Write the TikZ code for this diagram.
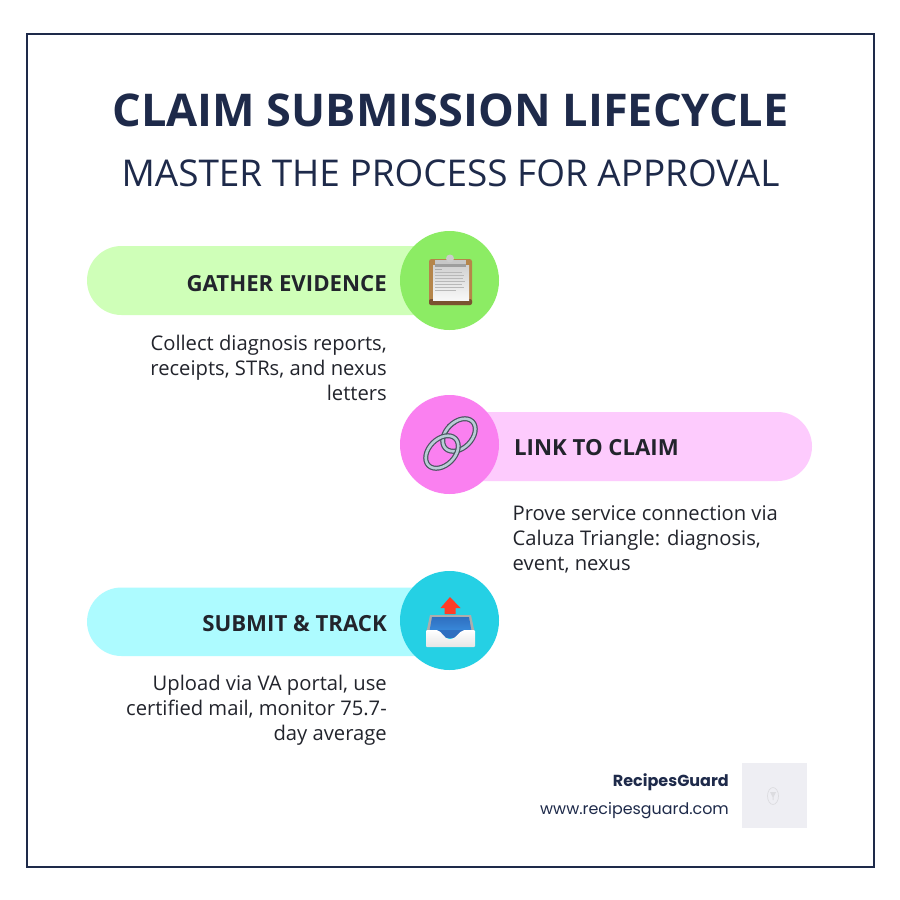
\documentclass[tikz,border=0pt]{standalone}
\usepackage{fontspec}
\setmainfont{Open Sans}
\newfontfamily\popfont{Poppins}
\usetikzlibrary{shapes.geometric}
\definecolor{navy}{HTML}{1E2A4A}
\definecolor{ink}{HTML}{22242C}
\definecolor{gpill}{HTML}{CFFFB8}
\definecolor{gcirc}{HTML}{8CEC64}
\definecolor{ppill}{HTML}{FDCBFD}
\definecolor{pcirc}{HTML}{FA80F0}
\definecolor{cpill}{HTML}{ADFBFF}
\definecolor{ccirc}{HTML}{25D0E4}
\definecolor{wood}{HTML}{B5854A}
\definecolor{wooddark}{HTML}{7A5230}
\definecolor{steel}{HTML}{B9CCD6}
\definecolor{steeld}{HTML}{4A5560}
\definecolor{trayblue}{HTML}{3B8FE0}
\definecolor{traydeep}{HTML}{2F6FC0}
\definecolor{logobg}{HTML}{EEEEF3}
\definecolor{logoline}{HTML}{DCDCE0}
\tikzset{
  headl/.style={font=\fontsize{22.2}{25}\selectfont\bfseries,text=ink,inner sep=0pt},
  bodyt/.style={font=\fontsize{20.2}{25}\selectfont,text=ink,inner sep=0pt},
  disc/.style={circle,minimum size=99pt,inner sep=0pt,draw=none},
  ringdark/.style={steeld,line width=5pt},
  ringlight/.style={steel,line width=2.6pt},
}
\begin{document}
\begin{tikzpicture}[x=1pt,y=-1pt]
\useasboundingbox (0,0) rectangle (900,900);
\fill[white] (0,0) rectangle (900,900);
\node[draw=navy,line width=2pt,minimum width=846.6pt,minimum height=832.6pt,inner sep=0pt] (frame) at (450.5,450.5) {};
\node[font=\fontsize{45.1}{50}\selectfont\bfseries,text=navy,inner sep=0pt] (title) at (450.5,110) {CLAIM SUBMISSION LIFECYCLE};
\node[font=\fontsize{36.9}{42}\selectfont,text=navy,inner sep=0pt] (subtitle) at (450.5,173) {MASTER THE PROCESS FOR APPROVAL};

% step 1
\fill[gpill,rounded corners=34.5pt] (87,246) rectangle (480,315);
\node[disc,fill=gcirc] (c1) at (449.5,280.5) {};
\node[headl,anchor=east] (h1) at (387,283.5) {GATHER EVIDENCE};
\node[bodyt,align=right,anchor=north east] (b1) at (387,334.5) {Collect diagnosis reports,\\receipts, STRs, and nexus\\letters};
% clipboard icon
\fill[rounded corners=2.5pt,fill=wood] (429,259) rectangle (472,305);
\fill[rounded corners=2pt,fill=wooddark] (429,299) rectangle (472,305);
\shade[top color=white!82!black,bottom color=white!97!black] (433,265) rectangle (469,300);
\fill[black!38!white] (435,262) rectangle (466,267);
\fill[black!22!white] (435,259.5) rectangle (466,263.5);
\fill[black!20!white] (450,258.5) circle (4pt);
\foreach \yy/\xe in {272/462,275/464,278/463,281/465,284/462,287/464,290/456}
  \draw[black!28!white,line width=.7pt] (435,\yy) -- (\xe,\yy);
\draw[black!32!white,line width=.7pt] (435,269) -- (442,269);

% step 2
\fill[ppill,rounded corners=34.5pt] (420,412) rectangle (812,481);
\node[disc,fill=pcirc] (c2) at (449.5,444.5) {};
\node[headl,anchor=west] (h2) at (514,447.5) {LINK TO CLAIM};
\node[bodyt,align=left,anchor=north west] (b2) at (512.5,505) {Prove service connection via\\Caluza Triangle: diagnosis,\\event, nexus};
% chain icon
\begin{scope}[rotate around={45:(459,435)}]
\draw[ringdark] (459,435) ellipse (19pt and 13pt);
\draw[ringlight] (459,435) ellipse (19pt and 13pt);
\end{scope}
\begin{scope}[rotate around={45:(442,452)}]
\draw[ringdark] (442,452) ellipse (19pt and 13pt);
\draw[ringlight] (442,452) ellipse (19pt and 13pt);
\end{scope}
\begin{scope}
\clip (447,424) rectangle (461,440);
\begin{scope}[rotate around={45:(459,435)}]
\draw[ringdark] (459,435) ellipse (19pt and 13pt);
\draw[ringlight] (459,435) ellipse (19pt and 13pt);
\end{scope}
\end{scope}

% step 3
\fill[cpill,rounded corners=34.5pt] (87,587.5) rectangle (480,656);
\node[disc,fill=ccirc] (c3) at (449.5,620.5) {};
\node[headl,anchor=east] (h3) at (387,623.5) {SUBMIT \& TRACK};
\node[bodyt,align=right,anchor=north east] (b3) at (387,674.5) {Upload via VA portal, use\\certified mail, monitor 75.7-\\day average};
% tray icon
\fill[black!32!white] (430,615) -- (471,615) -- (475,634) -- (426,634) -- cycle;
\shade[top color=traydeep,bottom color=trayblue] (432,617) -- (469,617) -- (472,634) -- (429,634) -- cycle;
\fill[traydeep] (436,630) .. controls (442,641) and (458,641) .. (465,630) -- cycle;
\fill[red!80!orange!85!white] (450,597) -- (460.5,608) -- (455.5,608) -- (455.5,614) -- (444.5,614) -- (444.5,608) -- (440.5,608) -- cycle;
\shade[top color=white,bottom color=black!10!white,rounded corners=1pt] (426,630) -- (436,630) .. controls (442,631) and (444,639) .. (450,639) .. controls (456,639) and (459,631) .. (465,630) -- (475,630) -- (475,647) -- (426,647) -- cycle;

% footer
\node[font=\popfont\fontsize{16}{18}\selectfont\bfseries,text=navy,anchor=east,inner sep=0pt] (brand) at (729,782) {RecipesGuard};
\node[font=\popfont\fontsize{15.9}{18}\selectfont,text=navy,anchor=east,inner sep=0pt] (url) at (729,810.5) {www.recipesguard.com};
\node[fill=logobg,minimum size=65pt,inner sep=0pt] (logo) at (774.5,795.5) {};
\node[ellipse,draw=logoline,line width=.7pt,minimum width=11pt,minimum height=17pt,inner sep=0pt] (egg) at (773,796) {};
\fill[logoline] (770,792) -- (776,792) -- (773.5,797) -- (773.5,800) -- (772.5,800) -- (772.5,797) -- cycle;
\end{tikzpicture}
\end{document}
